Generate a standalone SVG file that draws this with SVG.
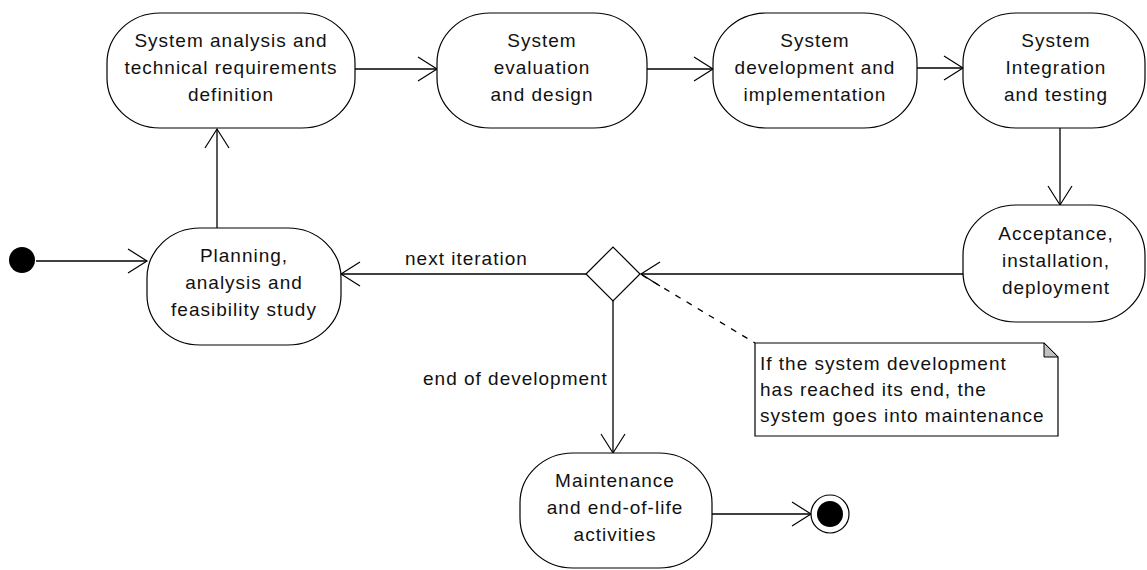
<svg xmlns="http://www.w3.org/2000/svg" width="1147" height="570" viewBox="0 0 1147 570">
  <style>
    .node { fill: #ffffff; stroke: #000000; stroke-width: 1.2; }
    .label { font-family: "Liberation Sans", Arial, sans-serif; font-size: 19px; letter-spacing: 1px; fill: #111111; }
    .mid { text-anchor: middle; }
    .edge { fill: none; stroke: #000000; stroke-width: 1.3; }
    .dashed { fill: none; stroke: #000000; stroke-width: 1.3; stroke-dasharray: 6 7; }
  </style>
  <defs>
    <marker id="open-arrow" markerUnits="userSpaceOnUse" markerWidth="24" markerHeight="28" viewBox="-22 -14 24 28" refX="0" refY="0" orient="auto">
      <path d="M-19,-12 L0,0 L-19,12" fill="none" stroke="#000000" stroke-width="1.2"/>
    </marker>
  </defs>
  <rect width="1147" height="570" fill="#ffffff"/>

  <!-- transitions -->
  <g id="connectors">
    <line class="edge" x1="36" y1="261" x2="147" y2="261" marker-end="url(#open-arrow)"/>
    <line class="edge" x1="217" y1="228" x2="217" y2="129" marker-end="url(#open-arrow)"/>
    <line class="edge" x1="355" y1="69" x2="437" y2="69" marker-end="url(#open-arrow)"/>
    <line class="edge" x1="647" y1="69" x2="713" y2="69" marker-end="url(#open-arrow)"/>
    <line class="edge" x1="917" y1="68" x2="963" y2="68" marker-end="url(#open-arrow)"/>
    <line class="edge" x1="1060" y1="128" x2="1060" y2="205" marker-end="url(#open-arrow)"/>
    <line class="edge" x1="964" y1="274" x2="641" y2="274" marker-end="url(#open-arrow)"/>
    <line class="edge" x1="586" y1="274" x2="341" y2="274" marker-end="url(#open-arrow)"/>
    <line class="edge" x1="613" y1="301" x2="613" y2="453" marker-end="url(#open-arrow)"/>
    <line class="edge" x1="712" y1="514" x2="811" y2="514" marker-end="url(#open-arrow)"/>
    <line class="dashed" x1="642" y1="275" x2="755" y2="343"/>
    <text class="label" x="405" y="265">next iteration</text>
    <text class="label" x="423" y="385">end of development</text>
  </g>

  <g id="initial">
    <circle cx="22" cy="260" r="13" fill="#000000"/>
  </g>

  <g id="planning">
    <rect class="node" x="147" y="228" width="194" height="117" rx="53" ry="50"/>
    <text class="label mid" x="244" y="262">Planning,</text>
    <text class="label mid" x="244" y="289">analysis and</text>
    <text class="label mid" x="244" y="316">feasibility study</text>
  </g>

  <g id="analysis">
    <rect class="node" x="107" y="13" width="248" height="115" rx="53" ry="50"/>
    <text class="label mid" x="231" y="47">System analysis and</text>
    <text class="label mid" x="231" y="74">technical requirements</text>
    <text class="label mid" x="231" y="101">definition</text>
  </g>

  <g id="design">
    <rect class="node" x="437" y="13" width="210" height="115" rx="53" ry="50"/>
    <text class="label mid" x="542" y="47">System</text>
    <text class="label mid" x="542" y="74">evaluation</text>
    <text class="label mid" x="542" y="101">and design</text>
  </g>

  <g id="development">
    <rect class="node" x="713" y="13" width="204" height="115" rx="53" ry="50"/>
    <text class="label mid" x="815" y="47">System</text>
    <text class="label mid" x="815" y="74">development and</text>
    <text class="label mid" x="815" y="101">implementation</text>
  </g>

  <g id="integration">
    <rect class="node" x="963" y="13" width="182" height="115" rx="53" ry="50"/>
    <text class="label mid" x="1056" y="47">System</text>
    <text class="label mid" x="1056" y="74">Integration</text>
    <text class="label mid" x="1056" y="101">and testing</text>
  </g>

  <g id="acceptance">
    <rect class="node" x="963" y="205" width="182" height="117" rx="53" ry="50"/>
    <text class="label mid" x="1056" y="240">Acceptance,</text>
    <text class="label mid" x="1056" y="267">installation,</text>
    <text class="label mid" x="1056" y="294">deployment</text>
  </g>

  <g id="decision">
    <polygon class="node" points="586,274 613,247 640,274 613,301"/>
  </g>

  <g id="maintenance">
    <rect class="node" x="520" y="453" width="192" height="115" rx="53" ry="50"/>
    <text class="label mid" x="615" y="487">Maintenance</text>
    <text class="label mid" x="615" y="514">and end-of-life</text>
    <text class="label mid" x="615" y="541">activities</text>
  </g>

  <g id="final">
    <circle cx="830" cy="514" r="19" fill="#ffffff" stroke="#000000" stroke-width="1.2"/>
    <circle cx="830" cy="514" r="13" fill="#000000"/>
  </g>

  <g id="note">
    <path class="node" d="M755,343 H1044 L1058,357 V436 H755 Z"/>
    <path d="M1044,343 V357 H1058 Z" fill="#c0c0c0" stroke="#000000" stroke-width="1"/>
    <text class="label" x="760" y="370">If the system development</text>
    <text class="label" x="760" y="396">has reached its end, the</text>
    <text class="label" x="760" y="422">system goes into maintenance</text>
  </g>
</svg>
